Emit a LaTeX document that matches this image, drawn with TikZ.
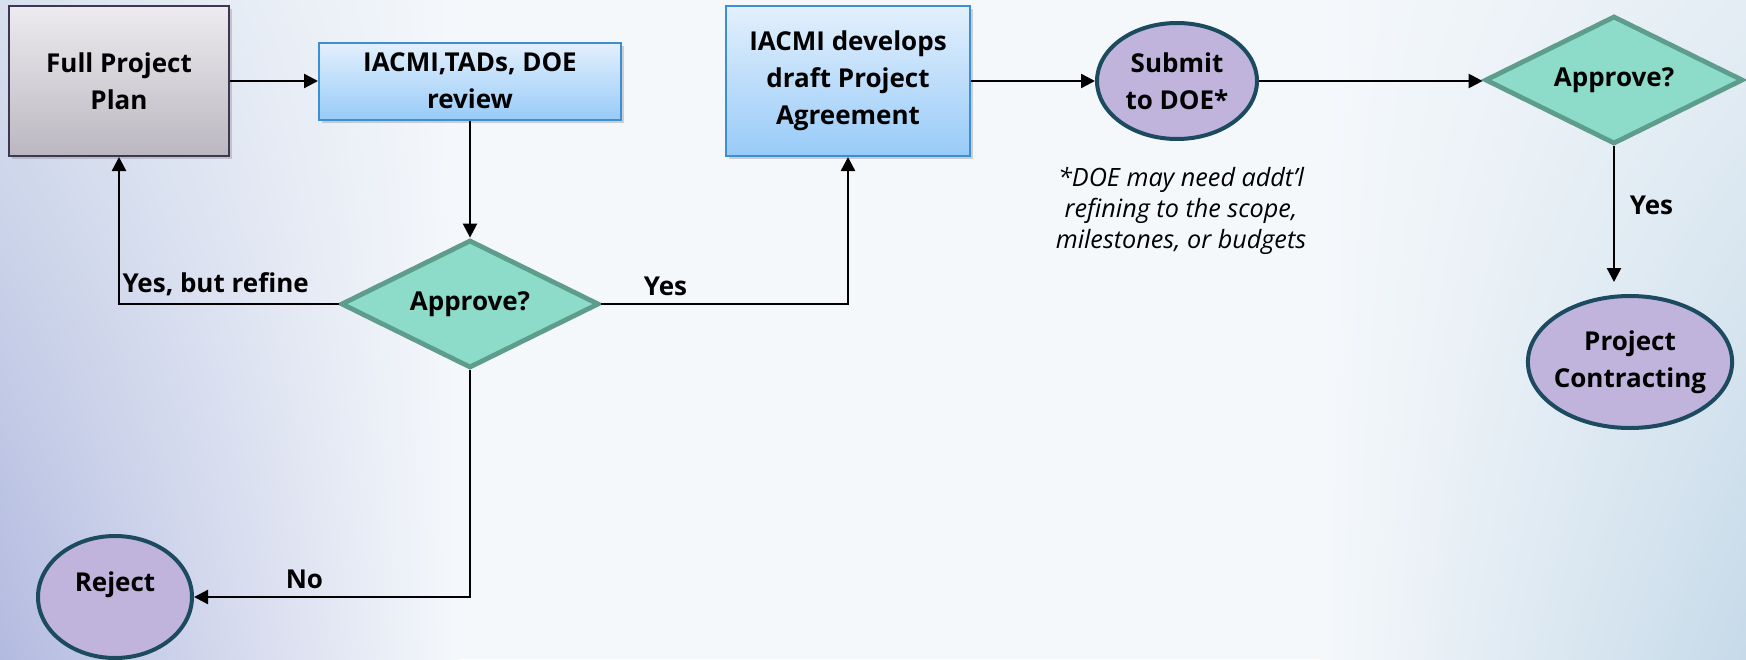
\documentclass[tikz,border=0pt]{standalone}
\usepackage{fontspec}
\setmainfont{Open Sans}
\usetikzlibrary{shapes.geometric,arrows.meta,shadows,shadings}
\definecolor{planTop}{HTML}{EDEBEF}
\definecolor{planBot}{HTML}{BBB7C0}
\definecolor{planLine}{HTML}{3E3652}
\definecolor{boxTop}{HTML}{E3F0FD}
\definecolor{boxBot}{HTML}{98CBF8}
\definecolor{boxLine}{HTML}{3C8FD2}
\definecolor{decFill}{HTML}{8CDCC9}
\definecolor{decLine}{HTML}{5E9C8C}
\definecolor{endFill}{HTML}{C0B4DD}
\definecolor{endLine}{HTML}{1C4A5E}
\definecolor{bgMid}{HTML}{F5F8FB}
\definecolor{bgLeftTop}{HTML}{D6E0EE}
\definecolor{bgLeftBot}{HTML}{B3BAE0}
\definecolor{bgRightTop}{HTML}{E4EDF4}
\definecolor{bgRightBot}{HTML}{C6DAE9}

\begin{document}
\begin{tikzpicture}[x=0.5pt,y=-0.5pt,
  txt/.style={font=\bfseries\fontsize{13}{18.5}\selectfont, align=center, text=black},
  plan/.style={txt, rectangle, draw=planLine, line width=1pt, top color=planTop, bottom color=planBot,
    minimum width=110pt, minimum height=75pt,
    drop shadow={shadow xshift=1.5pt, shadow yshift=-1.5pt, opacity=0.35}},
  task/.style={txt, rectangle, draw=boxLine, line width=1pt, top color=boxTop, bottom color=boxBot,
    drop shadow={shadow xshift=1.5pt, shadow yshift=-1.5pt, opacity=0.35}},
  decision/.style={txt, diamond, aspect=2, draw=decLine, line width=2.4pt, fill=decFill, inner sep=0pt,
    minimum width=129pt, minimum height=64pt},
  terminal/.style={txt, ellipse, draw=endLine, line width=2pt, fill=endFill, inner sep=0pt},
  lbl/.style={txt},
  note/.style={font=\itshape\fontsize{12.6}{15.5}\selectfont, align=center},
  arr/.style={line width=1.2pt, -{Triangle[length=7pt,width=7pt]}}
]
\useasboundingbox (0,0) rectangle (1746,659);
\fill[bgMid] (0,0) rectangle (1746,659);
\shade[shading=bilinear interpolation, upper left=bgLeftTop, lower left=bgLeftBot, upper right=bgMid, lower right=bgMid] (0,0) rectangle (460,659);
\shade[shading=bilinear interpolation, upper left=bgMid, lower left=bgMid, upper right=bgRightTop, lower right=bgRightBot] (1320,0) rectangle (1746,659);

\node[plan] (plan) at (119,81) {Full Project\\Plan};
\node[task, minimum width=151pt, minimum height=38.5pt] (review) at (470,81) {IACMI,TADs, DOE\\review};
\node[decision] (dec1) at (470,304) {Approve?};
\node[task, minimum width=122pt, minimum height=75pt] (draft) at (848,81) {IACMI develops\\draft Project\\Agreement};
\node[terminal, minimum width=80pt, minimum height=58pt] (submit) at (1177,81) {Submit\\to DOE*};
\node[note] (caveat) at (1181,211) {*DOE may need addt’l\\refining to the scope,\\milestones, or budgets};
\node[decision] (dec2) at (1614,80) {Approve?};
\node[terminal, minimum width=102pt, minimum height=66pt, inner xsep=-2pt] (contract) at (1630,362) {Project\\Contracting};
\node[terminal, minimum width=77pt, minimum height=61pt, text depth=15pt] (reject) at (115,597) {Reject};

\draw[arr] (plan) -- (review);
\draw[arr] (review) -- (dec1);
\draw[arr] (dec1.west) -| node[lbl, above, pos=0.28] (refine) {Yes, but refine} (plan.south);
\draw[arr] (dec1.east) -| node[lbl, above, pos=0.13] (yes1) {Yes} (draft.south);
\draw[arr] (draft) -- (submit);
\draw[arr] (submit.east) -- (submit.east -| dec2.west);
\draw[arr, shorten >=6pt] (dec2.south) -- node[lbl, right, pos=0.4, xshift=4pt] (yes2) {Yes} (dec2.south |- contract.north);
\draw[arr] (dec1.south) |- node[lbl, above, pos=0.8] (no) {No} (reject.east);
\end{tikzpicture}
\end{document}
